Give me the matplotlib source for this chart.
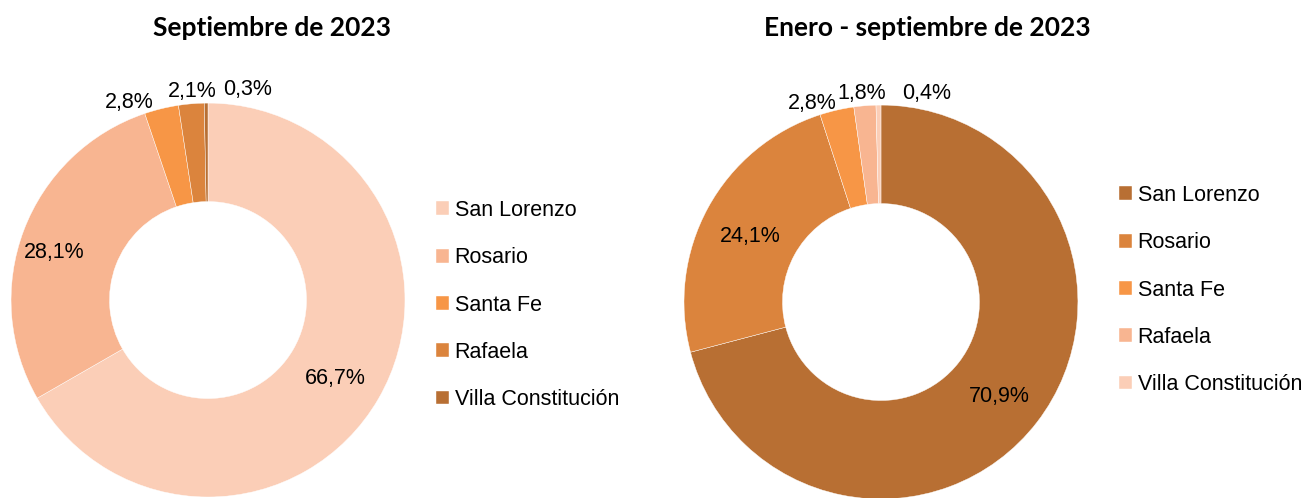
import matplotlib
matplotlib.use("Agg")
import matplotlib.pyplot as plt

plt.rcParams['font.family'] = ['Liberation Sans', 'DejaVu Sans']

ciudades = ["San Lorenzo", "Rosario", "Santa Fe", "Rafaela", "Villa Constitución"]
sep_2023 = [66.7, 28.1, 2.8, 2.1, 0.3]
ene_sep_2023 = [70.9, 24.1, 2.8, 1.8, 0.4]

colores_sep = ["#FBCEB7", "#F8B591", "#F79646", "#DB843D", "#B86F33"]
colores_acum = ["#B86F33", "#DB843D", "#F79646", "#F8B591", "#FBCEB7"]

# label positions (relative to pie centre, radius = 1), as in the original
pos_sep = [(0.645, -0.40), (-0.78, 0.24), (-0.40, 1.005), (-0.08, 1.06), (0.20, 1.07)]
pos_acum = [(0.60, -0.48), (-0.665, 0.335), (-0.35, 1.01), (-0.096, 1.06), (0.23, 1.06)]


def fmt(v):
    return f"{v:.1f}%".replace(".", ",")


def dona(fig, rect, valores, colores, posiciones, titulo, titulo_x, leg_xy):
    ax = fig.add_axes(rect)
    wedges, _ = ax.pie(valores, colors=colores, startangle=90, counterclock=False,
                       radius=1, wedgeprops=dict(width=0.5, edgecolor="white", linewidth=0.3))
    ax.set_xlim(-1, 1)
    ax.set_ylim(-1, 1)
    ax.set_aspect("equal")
    ax.axis("off")
    for v, (x, y) in zip(valores, posiciones):
        ax.text(x, y, fmt(v), ha="center", va="center", fontsize=15.5, clip_on=False,
                family="Liberation Sans")
    fig.text(titulo_x, 1 - 28 / 498, titulo, ha="center", va="center", fontsize=19,
             fontweight="bold", family=["Lato", "DejaVu Sans"])
    fig.legend(wedges, ciudades, loc="upper left", bbox_to_anchor=leg_xy, frameon=False,
               prop=dict(family="Liberation Sans", size=15.5),
               handlelength=0.62, handleheight=0.62, handletextpad=0.25,
               labelspacing=1.22, borderpad=0, borderaxespad=0)
    return ax


fig = plt.figure(figsize=(13.09, 4.98), dpi=100)

dona(fig, [0.0084, 0.002, 0.301, 0.791], sep_2023, colores_sep, pos_sep,
     "Septiembre de 2023", 272 / 1309, (436 / 1309, 1 - 200 / 498))
dona(fig, [0.5225, -0.002, 0.301, 0.791], ene_sep_2023, colores_acum, pos_acum,
     "Enero - septiembre de 2023", 927 / 1309, (1119 / 1309, 1 - 185 / 498))

fig.savefig("out.png", dpi=100)
